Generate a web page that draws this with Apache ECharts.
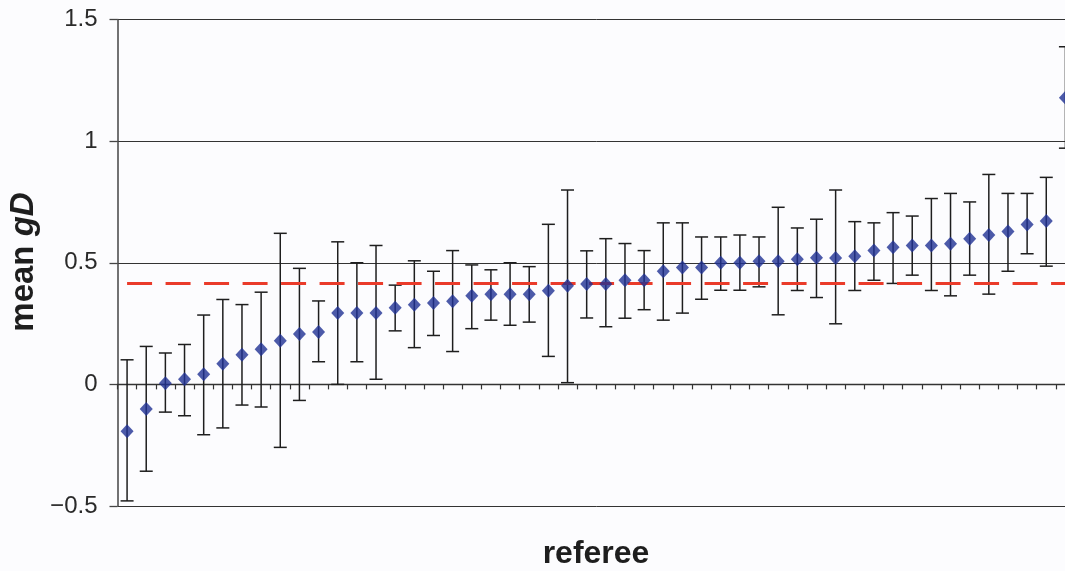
<!DOCTYPE html>
<html>
<head>
<meta charset="utf-8">
<script src="https://cdn.jsdelivr.net/npm/echarts@6/dist/echarts.min.js"></script>
<style>
  html, body { margin: 0; padding: 0; background: #fcfcfe; overflow: hidden; }
  #chart { width: 1075px; height: 571px; }
</style>
</head>
<body>
<div id="chart"></div>
<script>
// referee index (categories)
const referees = ['1','2','3','4','5','6','7','8','9','10',
  '11','12','13','14','15','16','17','18','19','20',
  '21','22','23','24','25','26','27','28','29','30',
  '31','32','33','34','35','36','37','38','39','40',
  '41','42','43','44','45','46','47','48','49','50'];

// mean gD per referee
const meanGD = [-0.193, -0.101, 0.005, 0.021, 0.042, 0.085, 0.122, 0.144, 0.179, 0.207,
  0.215, 0.293, 0.293, 0.293, 0.315, 0.327, 0.335, 0.342, 0.364, 0.371,
  0.371, 0.371, 0.385, 0.405, 0.413, 0.413, 0.428, 0.428, 0.465, 0.480,
  0.480, 0.500, 0.500, 0.506, 0.506, 0.514, 0.521, 0.520, 0.527, 0.550,
  0.564, 0.571, 0.571, 0.578, 0.599, 0.614, 0.628, 0.657, 0.672, 1.178];

// upper end of error bar
const upperGD = [0.101, 0.156, 0.129, 0.164, 0.285, 0.349, 0.328, 0.379, 0.621, 0.477,
  0.343, 0.586, 0.500, 0.571, 0.408, 0.508, 0.465, 0.550, 0.491, 0.471,
  0.500, 0.484, 0.658, 0.799, 0.549, 0.599, 0.579, 0.550, 0.664, 0.664,
  0.606, 0.606, 0.614, 0.606, 0.728, 0.643, 0.679, 0.799, 0.669, 0.664,
  0.706, 0.692, 0.764, 0.785, 0.750, 0.863, 0.785, 0.785, 0.851, 1.388];

// lower end of error bar
const lowerGD = [-0.479, -0.357, -0.114, -0.129, -0.207, -0.179, -0.085, -0.093, -0.259, -0.066,
  0.093, 0.000, 0.093, 0.021, 0.220, 0.151, 0.201, 0.135, 0.229, 0.264,
  0.243, 0.256, 0.115, 0.007, 0.273, 0.237, 0.272, 0.307, 0.264, 0.293,
  0.350, 0.387, 0.387, 0.401, 0.286, 0.386, 0.357, 0.249, 0.386, 0.428,
  0.415, 0.449, 0.386, 0.364, 0.449, 0.371, 0.465, 0.537, 0.486, 0.971];

// overall mean (dashed reference line)
const overallMean = 0.415;

// y tick values
const yTicks = [-0.5, 0, 0.5, 1, 1.5];

const FONT = "'Liberation Sans', Arial, Helvetica, sans-serif";

const chart = echarts.init(document.getElementById('chart'), null, { renderer: 'canvas' });

const errorData = referees.map((r, i) => [i, lowerGD[i], upperGD[i]]);

const option = {
  backgroundColor: '#fcfcfe',
  animation: false,
  grid: { left: 117.5, top: 19.5, right: 0, height: 486.5, containLabel: false },
  xAxis: {
    type: 'category',
    data: referees,
    boundaryGap: true,
    axisLine: { onZero: true, lineStyle: { color: '#333', width: 1.3 } },
    axisTick: { show: true, length: 5, interval: 0, alignWithLabel: false, lineStyle: { color: '#333', width: 1.2 } },
    axisLabel: { show: false },
    splitLine: { show: false }
  },
  yAxis: {
    type: 'value',
    min: yTicks[0],
    max: yTicks[yTicks.length - 1],
    interval: 0.5,
    axisLine: { show: true, onZero: false, lineStyle: { color: '#444', width: 1.5 } },
    axisTick: { show: true, length: 8, lineStyle: { color: '#444', width: 1.3 } },
    axisLabel: {
      margin: 20,
      fontFamily: FONT,
      fontSize: 24,
      color: '#2a2a2a',
      formatter: v => String(v).replace('-', '\u2212')
    },
    splitLine: { show: true, lineStyle: { color: '#333', width: 1 } }
  },
  series: [
    {
      type: 'custom',
      name: 'range',
      data: errorData,
      encode: { x: 0, y: [1, 2] },
      z: 2,
      renderItem: function (params, api) {
        const idx = api.value(0);
        const lo = api.coord([idx, api.value(1)]);
        const hi = api.coord([idx, api.value(2)]);
        const hw = 6.5;
        const style = { stroke: '#1e1e1e', lineWidth: 1.5 };
        return {
          type: 'group',
          children: [
            { type: 'line', shape: { x1: hi[0], y1: hi[1], x2: lo[0], y2: lo[1] }, style: style },
            { type: 'line', shape: { x1: hi[0] - hw, y1: hi[1], x2: hi[0] + hw, y2: hi[1] }, style: style },
            { type: 'line', shape: { x1: lo[0] - hw, y1: lo[1], x2: lo[0] + hw, y2: lo[1] }, style: style }
          ]
        };
      }
    },
    {
      type: 'scatter',
      name: 'mean gD',
      data: meanGD,
      symbol: 'diamond',
      symbolSize: [13, 14],
      itemStyle: { color: '#1f3194' },
      z: 4,
      markLine: {
        silent: true,
        symbol: ['none', 'none'],
        label: { show: false },
        lineStyle: { color: '#ea3b2a', width: 3, type: [25, 13.5] },
        data: [[
          { coord: [referees[0], overallMean] },
          { coord: [referees[referees.length - 1], overallMean] }
        ]],
        z: 3
      }
    }
  ],
  graphic: [
    {
      type: 'text',
      x: 24,
      y: 262,
      rotation: Math.PI / 2,
      style: {
        text: '{a|mean }{b|gD}',
        align: 'center',
        verticalAlign: 'middle',
        rich: {
          a: { fontFamily: FONT, fontWeight: 'bold', fontSize: 33, fill: '#1e1e1e' },
          b: { fontFamily: FONT, fontWeight: 'bold', fontStyle: 'italic', fontSize: 33, fill: '#1e1e1e' }
        }
      }
    },
    {
      type: 'text',
      x: 596,
      y: 554,
      style: {
        text: 'referee',
        align: 'center',
        verticalAlign: 'middle',
        fontFamily: FONT,
        fontWeight: 'bold',
        fontSize: 32,
        fill: '#1e1e1e'
      }
    }
  ]
};

chart.setOption(option);
</script>
</body>
</html>
